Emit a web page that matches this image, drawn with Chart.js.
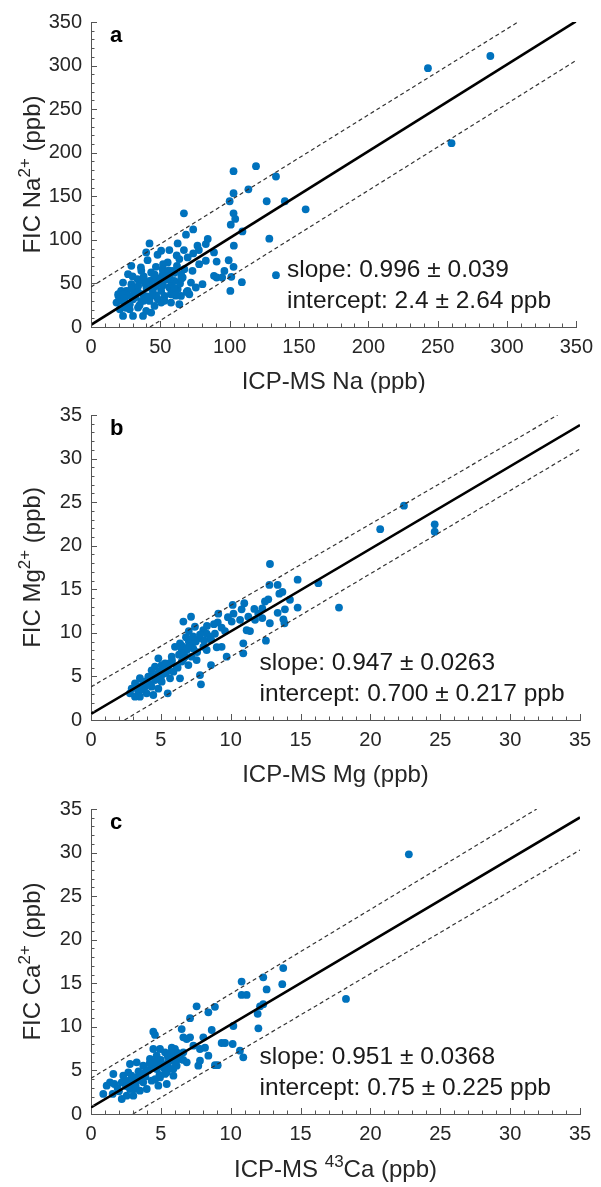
<!DOCTYPE html>
<html>
<head>
<meta charset="utf-8">
<script src="https://cdn.jsdelivr.net/npm/chart.js@4.4.0/dist/chart.umd.min.js"></script>
<style>
html,body{margin:0;padding:0;background:#fff;}
.p{position:relative;width:601px;}
</style>
</head>
<body>
<div class="p" style="height:393px"><canvas id="ca"></canvas></div>
<div class="p" style="height:394px"><canvas id="cb"></canvas></div>
<div class="p" style="height:400px"><canvas id="cc"></canvas></div>
<script>
// ---------- Panel a: Na ----------
const naX = [42.2,50.6,39.8,62.5,56.5,76.8,82.8,88.7,29.1,26.7,
36.3,43.4,51.8,55.3,63.7,69.7,67.3,73.2,78,82.8,
23.1,29.1,35.1,42.2,48.2,54.2,60.1,66.1,72.1,80.4,
88.7,19.6,25.5,32.7,37.5,44.6,50.6,56.5,62.5,69.7,
75.6,18.4,24.3,30.3,36.3,42.2,48.2,53,57.7,64.9,
70.9,20.8,27.9,33.9,39.8,45.8,50.6,57.7,63.7,23.1,
30.3,37.5,43.4,102.8,119,133.4,113.5,102.8,100,126.7,
139.8,154.8,102.8,104,100.8,109.2,67,73.7,68.5,128.6,
103,84.2,77.8,90.6,99.3,102.8,96.2,90.6,94.6,101.2,
108.8,100.5,133.4,67,73.7,48,40.8,61.8,58.7,46.8,
51.6,69,64.2,33.6,36,21.7,19.8,23.6,243,288,
260,31,34,38,40,45,47,52,55,58,
60,62,65,58,53,47,41,35,28,25,
22,32,44,50,56,60,65,39,27,30,
34,46,52,57,38,44,24,29,61];
const naY = [95.9,87.5,85.6,95.9,88.3,93.3,95.2,85.6,70.2,60.6,
64.5,62.6,60.6,74.1,77.9,79.8,66.4,64.5,72.1,76,
51,49.1,53,53,51,54.9,53,56.8,51,49.1,
58.7,37.6,41.4,43.4,37.6,41.4,41.4,45.3,43.4,41.4,
45.3,28,29.9,31.9,29.9,29.9,31.9,35.7,37.6,35.7,
37.6,20.3,20.3,22.3,18.4,24.2,28,28,26.1,12.7,
12.7,12.7,16.5,178.8,184.6,172.7,158,153.5,144.3,144.3,
144.3,135,130.5,124,117.4,109.7,130.5,112,105.9,101.3,
93.3,101,88.3,75.1,76.6,69,64.4,56.8,56.8,57.6,
51.4,41.4,59.5,88.3,84.4,82.9,76.7,82.1,64.4,69,
66.4,40.3,49.9,54.8,68.3,41.4,35.6,37.5,297,311,
211,38,47,58,45,55,47,48,58,50,
62,70,60,40,30,36,35,25,26,22,
30,34,47,56,65,45,55,50,36,58,
40,60,72,55,30,36,33,44,36];
const naFitX = [0, 350];
const naFitY = [2.4, 351];
const naUpX = [0, 308];
const naUpY = [46, 350];
const naLoX = [42.5, 350];
const naLoY = [0, 306];

// ---------- Panel b: Mg ----------
const mgX = [12.81,12.77,13.36,14.79,16.27,13.48,12.69,12.45,14.24,14.79,
17.75,13.36,13.88,13.77,12.8,12.52,10.14,10.97,10.78,11.69,
11.97,12.26,11.74,12.26,11.26,10.2,10.07,10.67,11.14,11.38,
10.9,10.9,9.11,9.07,9.35,9.59,8.87,9.35,9.0,9.71,
8.59,6.61,7.16,7.44,8.04,8.28,8.52,7.8,8.04,8.6,
8.28,7.44,7.09,7.32,6.85,6.73,7.2,6.49,6.97,7.56,
6.01,6.37,6.49,5.78,6.13,5.9,6.37,7.8,7.87,5.49,
4.82,5.06,5.3,4.58,4.34,4.82,5.25,4.1,4.58,5.06,
5.66,3.74,3.5,3.15,3.86,4.34,4.82,2.91,3.39,3.98,
3.5,4.46,2.79,3.15,13.7,13.85,20.7,22.4,24.6,24.6,
7,7.2,6.8,7.5,7.8,6.3,6.5,5.5,5.8,6.2,
4.5,5.2,4.0,8.3,7.0,8.8,9.8,5.0,3.7,4.2,
6.6,7.6,8.1,5.6,5.4,6.9,7.3,4.9,3.3];
const mgY = [17.9,15.5,15.5,16.1,15.7,14.5,13.85,13.6,13.8,12.9,
12.9,12.3,12.7,11.55,11.1,9.1,13.2,13.4,12.7,12.75,
12.2,12.8,11.5,11.7,11.85,12.2,11.3,11.5,10.3,10.2,
8.8,7.65,12.2,11.2,10.6,10.2,9.9,8.4,8.35,7.27,
6.3,11.3,11.85,10.7,10.3,9.9,9.56,9.4,8.4,9.2,
8.03,9.2,8.8,8.2,8.03,7.27,7.27,6.7,6.3,6.88,
8.4,8.8,8.03,7.27,6.12,5.54,4.78,5.16,4.09,3.06,
7.08,6.3,6.5,6.12,5.7,5.35,5.35,4.97,4.59,4.4,
4.78,4.4,4.8,4.2,3.82,3.82,3.6,3.6,3.25,3.06,
2.68,2.87,3.06,2.68,14.7,11.1,21.9,24.6,22.45,21.6,
9,8.5,9.5,9.0,9.8,7.5,8.5,6.0,6.8,6.0,
5.0,5.8,4.5,10.8,10.2,11.0,11.8,4.9,3.5,4.1,
7.0,7.8,9.1,6.5,5.5,8.3,9.6,5.6,3.9];
const mgFitX = [0, 35];
const mgFitY = [0.7, 33.85];
const mgUpX = [0, 33.4];
const mgUpY = [3.8, 35];
const mgLoX = [2.4, 35];
const mgLoY = [0, 31.1];

// ---------- Panel c: Ca ----------
const caX = [13.76,12.33,10.78,13.69,12.57,10.78,11.14,12.33,12.1,11.93,
11.98,7.56,8.4,8.87,7.09,4.46,4.58,6.49,8.64,8.04,
6.85,7.09,10.19,9.35,9.59,10.14,10.66,10.9,7.8,8.16,
8.4,7.8,7.68,8.87,9.07,7.33,5.78,6.01,6.61,6.37,
6.85,6.13,5.53,5.3,4.94,4.7,4.46,4.22,5.06,4.7,
5.42,5.9,4.94,4.34,4.82,3.74,3.86,3.27,2.79,2.67,
3.27,3.74,3.2,2.79,3.5,2.31,2.2,1.6,1.36,1.12,
1.67,0.88,1.55,2.2,2.55,3.03,3.99,5.42,6.61,22.75,
18.25,5.0,5.5,4.4,3.9,4.6,5.2,5.8,6.2,4.1,
3.5,3.0,2.5,4.8,5.6,6.0,5.3,4.5,3.4,2.9,
6.3,2.0,1.9,4.2,5.7,6.6,3.6,4.9,5.9,2.6,
3.2];
const caY = [16.75,15.68,15.2,14.9,14.3,13.66,13.66,12.6,12.36,11.5,
9.83,12.36,11.67,12.3,11.0,9.45,9.07,9.75,9.64,8.8,
8.6,8.8,10.1,8.15,8.15,8.03,7.27,6.5,7.46,7.6,
6.69,6.12,5.55,5.6,5.6,7.84,7.6,7.46,7.08,6.31,
5.93,5.55,5.93,7.08,7.46,6.69,7.46,6.31,5.74,5.16,
4.78,4.4,4.2,3.82,3.25,5.55,4.78,5.93,5.74,4.78,
4.2,3.63,3.25,2.87,2.68,4.4,3.63,4.59,3.63,3.25,
3.44,2.3,2.3,1.72,2.1,2.1,2.87,3.44,8.8,29.8,
13.2,6.2,6.6,5.4,4.3,4.0,5.3,6.6,7.0,5.0,
3.9,3.6,3.2,5.8,5.2,6.0,4.6,6.0,4.9,4.4,
6.6,2.6,3.0,5.8,7.0,6.2,4.5,4.5,5.2,3.8,
2.9];
const caFitX = [0, 35];
const caFitY = [0.75, 34.04];
const caUpX = [0, 31.9];
const caUpY = [4.1, 35];
const caLoX = [3.0, 35];
const caLoY = [0, 30.3];

// ---------- axis ranges / tick steps ----------
const naRange = [0, 350], naStep = 50, naMinor = 10;
const mgRange = [0, 35], mgStep = 5, mgMinor = 1;
const caRange = [0, 35], caStep = 5, caMinor = 1;

const FONT = '"Liberation Sans", Arial, Helvetica, sans-serif';
Chart.defaults.font.family = FONT;

function pts(xs, ys) { return xs.map((x, i) => ({x: x, y: ys[i]})); }

function drawRich(ctx, parts, x, y, size, align) {
  const supSize = Math.round(size * 0.7);
  let w = 0;
  parts.forEach(p => {
    ctx.font = (p[1] ? supSize : size) + 'px ' + FONT;
    w += ctx.measureText(p[0]).width;
  });
  let cx = align === 'center' ? x - w / 2 : x;
  ctx.textAlign = 'left';
  ctx.textBaseline = 'alphabetic';
  parts.forEach(p => {
    ctx.font = (p[1] ? supSize : size) + 'px ' + FONT;
    ctx.fillText(p[0], cx, p[1] ? y - size * 0.4 : y);
    cx += ctx.measureText(p[0]).width;
  });
}

const panelPlugin = {
  id: 'panel',
  afterDatasetsDraw(chart, args, o) {
    const ctx = chart.ctx, xs = chart.scales.x, ys = chart.scales.y, ca = chart.chartArea;
    ctx.save();
    // inward tick marks (major + minor)
    ctx.strokeStyle = '#555';
    ctx.lineWidth = 1;
    ctx.beginPath();
    const ratio = Math.round(o.major / o.minor);
    const nx = Math.round((xs.max - xs.min) / o.minor);
    for (let i = 0; i <= nx; i++) {
      const len = (i % ratio === 0) ? 6 : 3.5;
      const px = Math.round(xs.getPixelForValue(xs.min + i * o.minor)) + 0.5;
      ctx.moveTo(px, ca.bottom);
      ctx.lineTo(px, ca.bottom - len);
    }
    const ny = Math.round((ys.max - ys.min) / o.minor);
    for (let i = 0; i <= ny; i++) {
      const len = (i % ratio === 0) ? 6 : 3.5;
      const py = Math.round(ys.getPixelForValue(ys.min + i * o.minor)) + 0.5;
      ctx.moveTo(ca.left, py);
      ctx.lineTo(ca.left + len, py);
    }
    ctx.stroke();

    // panel letter
    ctx.fillStyle = '#000';
    ctx.font = 'bold 22px ' + FONT;
    ctx.textAlign = 'left';
    ctx.textBaseline = 'alphabetic';
    ctx.fillText(o.letter, ca.left + 19, ca.top + 19.5);

    // annotation
    ctx.fillStyle = '#1a1a1a';
    ctx.font = '24.5px ' + FONT;
    o.anno.forEach((t, i) => ctx.fillText(t, ca.left + o.annoDx, ca.top + 255 + i * 31));

    // axis titles
    ctx.fillStyle = '#262626';
    drawRich(ctx, o.xTitle, (ca.left + ca.right) / 2, ca.bottom + o.xTitleDy, 24, 'center');
    ctx.save();
    ctx.translate(ca.left - 51, (ca.top + ca.bottom) / 2);
    ctx.rotate(-Math.PI / 2);
    drawRich(ctx, o.yTitle, 0, 0, 24, 'center');
    ctx.restore();
    ctx.restore();
  }
};

function makeChart(id, H, data, range, step, minor, opts) {
  const axis = (isX) => ({
    type: 'linear',
    min: range[0], max: range[1],
    grid: {display: false, drawTicks: false},
    border: {display: true, color: '#555', width: 1},
    ticks: {stepSize: step, autoSkip: false, maxRotation: 0, color: '#262626',
            font: {size: 20, family: FONT}, padding: isX ? 8 : 9},
    afterFit: (s) => { if (isX) s.height = H - 22 - 305; else s.width = 91; }
  });
  return new Chart(document.getElementById(id), {
    type: 'scatter',
    data: {datasets: [
      {data: pts(data.x, data.y), pointRadius: 3.9, pointBackgroundColor: '#0072BD',
       pointBorderWidth: 0, order: 3},
      {data: pts(data.upX, data.upY), showLine: true, borderColor: '#333', borderWidth: 1.2,
       borderDash: [4, 3], pointRadius: 0, order: 2},
      {data: pts(data.loX, data.loY), showLine: true, borderColor: '#333', borderWidth: 1.2,
       borderDash: [4, 3], pointRadius: 0, order: 2},
      {data: pts(data.fitX, data.fitY), showLine: true, borderColor: '#000', borderWidth: 2.6,
       pointRadius: 0, order: 1}
    ]},
    options: {
      responsive: true, maintainAspectRatio: false, animation: false, events: [],
      layout: {padding: {top: 22, right: 21, left: 0, bottom: 0}},
      scales: {x: axis(true), y: axis(false)},
      plugins: {legend: {display: false}, tooltip: {enabled: false},
                panel: Object.assign({major: step, minor: minor}, opts)}
    },
    plugins: [panelPlugin]
  });
}

makeChart('ca', 393,
  {x: naX, y: naY, fitX: naFitX, fitY: naFitY, upX: naUpX, upY: naUpY, loX: naLoX, loY: naLoY},
  naRange, naStep, naMinor,
  {letter: 'a', annoDx: 196,
   anno: ['slope: 0.996 \u00B1 0.039', 'intercept: 2.4 \u00B1 2.64 ppb'],
   xTitle: [['ICP-MS Na (ppb)']], xTitleDy: 61.5,
   yTitle: [['FIC Na'], ['2+', true], [' (ppb)']]});

makeChart('cb', 394,
  {x: mgX, y: mgY, fitX: mgFitX, fitY: mgFitY, upX: mgUpX, upY: mgUpY, loX: mgLoX, loY: mgLoY},
  mgRange, mgStep, mgMinor,
  {letter: 'b', annoDx: 168.6,
   anno: ['slope: 0.947 \u00B1 0.0263', 'intercept: 0.700 \u00B1 0.217 ppb'],
   xTitle: [['ICP-MS Mg (ppb)']], xTitleDy: 61.5,
   yTitle: [['FIC Mg'], ['2+', true], [' (ppb)']]});

makeChart('cc', 400,
  {x: caX, y: caY, fitX: caFitX, fitY: caFitY, upX: caUpX, upY: caUpY, loX: caLoX, loY: caLoY},
  caRange, caStep, caMinor,
  {letter: 'c', annoDx: 168.6,
   anno: ['slope: 0.951 \u00B1 0.0368', 'intercept: 0.75 \u00B1 0.225 ppb'],
   xTitle: [['ICP-MS '], ['43', true], ['Ca (ppb)']], xTitleDy: 63,
   yTitle: [['FIC Ca'], ['2+', true], [' (ppb)']]});
</script>
</body>
</html>
